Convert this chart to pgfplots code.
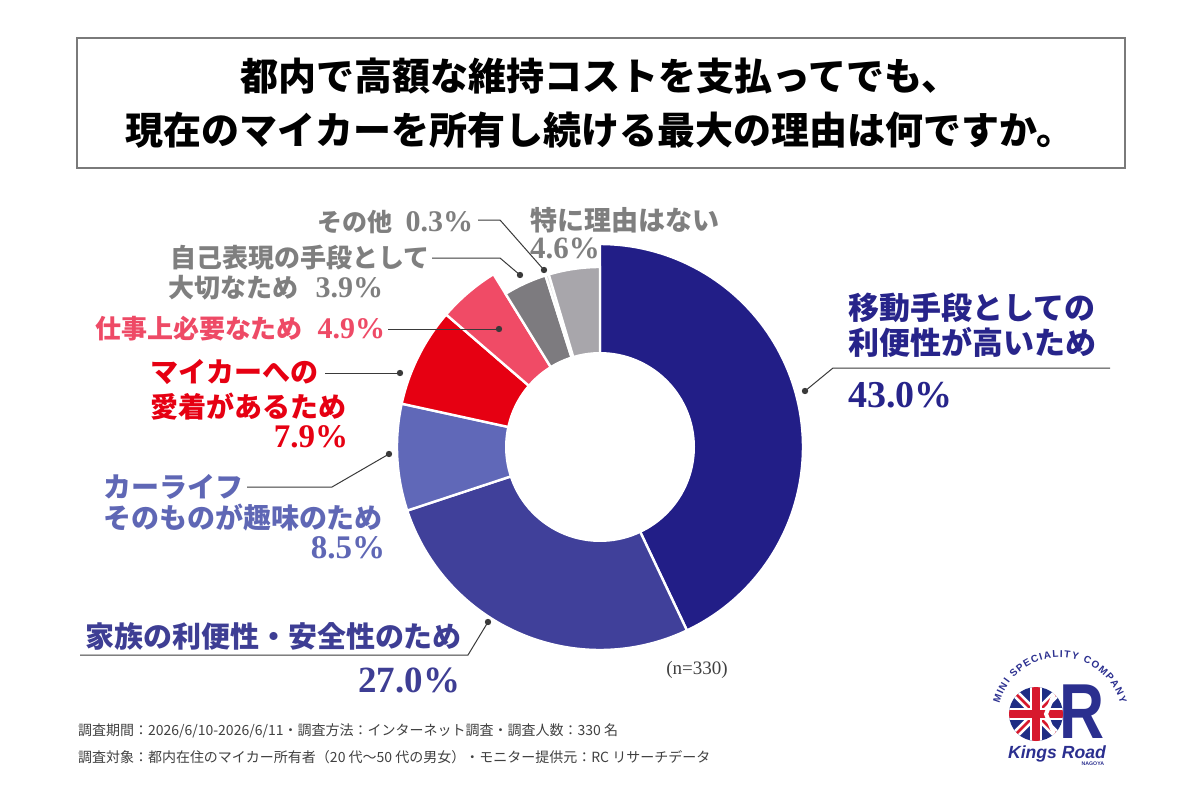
\documentclass[border=0pt]{standalone}
\usepackage{fontspec}
\usepackage{pgfplots}
\pgfplotsset{compat=1.18}
\usetikzlibrary{decorations.text}

\setmainfont{Liberation Serif}
\newfontfamily\jp{Noto Sans CJK JP}
\newfontfamily\logosans{Liberation Sans}

% slice colours
\definecolor{cNavy}{HTML}{221E87}
\definecolor{cFamily}{HTML}{40409A}
\definecolor{cHobby}{HTML}{6068B8}
\definecolor{cRed}{HTML}{E60012}
\definecolor{cPink}{HTML}{F04B66}
\definecolor{cDark}{HTML}{7D7B7F}
\definecolor{cOther}{HTML}{DADADA}
\definecolor{cLight}{HTML}{A8A6AB}
% text colours
\definecolor{tNavy}{HTML}{27248A}
\definecolor{tFamily}{HTML}{3E3E94}
\definecolor{tHobby}{HTML}{5F67B5}
\definecolor{tRed}{HTML}{E60012}
\definecolor{tPink}{HTML}{EE4A66}
\definecolor{tGrey}{HTML}{7F7F7F}
\definecolor{leader}{HTML}{3A3A3A}
\definecolor{frame}{HTML}{7A7A7A}
\definecolor{note}{HTML}{404040}
\definecolor{ukblue}{HTML}{1F2D84}
\definecolor{ukred}{HTML}{D7192D}
\definecolor{logoblue}{HTML}{2B2F8F}

% donut geometry (axis units)
\def\cx{600}\def\cy{353}
\def\Rout{203}\def\Rgrey{180}\def\Rin{95}
\def\tot{100.1}

% one sector: start share, share, colour, outer radius (clockwise from 12 o'clock)
\newcommand\sector[4]{%
  \addplot[fill=#3, draw=white, line width=1.2pt, samples=90,
    domain=90-360*(#1+#2)/\tot:90-360*(#1)/\tot]
    ({\cx+#4*cos(x)},{\cy+#4*sin(x)}) -- (axis cs:\cx,\cy) -- cycle;}

% leader dot
\newcommand\ldot[2]{\fill[leader] (axis cs:#1,#2) circle[radius=1.6pt];}

\newcommand\fs[2]{\fontsize{#1}{#2}\selectfont}

\begin{document}
\begin{tikzpicture}[lab/.style={inner sep=0pt, outer sep=0pt}]
\begin{axis}[scale only axis, width=600pt, height=400pt,
  xmin=0, xmax=1200, ymin=0, ymax=800, hide axis, clip=false]
\path (axis cs:0,0) rectangle (axis cs:1200,800);

% title
\draw[frame, line width=1pt] (axis cs:77,632) rectangle (axis cs:1125,762);
\node[align=center, font={\jp\bfseries\fs{19}{27}}] at (axis cs:600,697)
  {都内で高額な維持コストを支払ってでも、\\現在のマイカーを所有し続ける最大の理由は何ですか。};

% donut
\sector{0}{43.0}{cNavy}{\Rout}
\sector{43.0}{27.0}{cFamily}{\Rout}
\sector{43.0+27.0}{8.5}{cHobby}{\Rout}
\sector{43.0+27.0+8.5}{7.9}{cRed}{\Rout}
\sector{43.0+27.0+8.5+7.9}{4.9}{cPink}{\Rout}
\sector{43.0+27.0+8.5+7.9+4.9}{3.9}{cDark}{\Rgrey}
\sector{43.0+27.0+8.5+7.9+4.9+3.9}{0.3}{cOther}{\Rgrey}
\sector{43.0+27.0+8.5+7.9+4.9+3.9+0.3}{4.6}{cLight}{\Rgrey}
\addplot[fill=white, draw=none, domain=0:360, samples=120]
  ({\cx+\Rin*cos(x)},{\cy+\Rin*sin(x)}) -- cycle;

% leader lines
\draw[leader, line width=0.5pt] (axis cs:805,409) -- (axis cs:833,432) -- (axis cs:1110,432);
\draw[leader, line width=0.5pt] (axis cs:488,178) -- (axis cs:468,145) -- (axis cs:80,145);
\draw[leader, line width=0.5pt] (axis cs:389,346) -- (axis cs:332,313) -- (axis cs:247,313);
\draw[leader, line width=0.5pt] (axis cs:400,427) -- (axis cs:325,427);
\draw[leader, line width=0.5pt] (axis cs:499,471) -- (axis cs:388,471);
\draw[leader, line width=0.5pt] (axis cs:520,525) -- (axis cs:500,542) -- (axis cs:432,542);
\draw[leader, line width=0.5pt] (axis cs:544,530) -- (axis cs:500,580) -- (axis cs:478,580);
\ldot{805}{409}\ldot{488}{178}\ldot{389}{346}\ldot{400}{427}
\ldot{499}{471}\ldot{520}{525}\ldot{544}{530}

% labels
\node[lab, anchor=west, align=left, text=tNavy, font={\jp\bfseries\fs{15.5}{17.5}}] at (axis cs:848,474.5)
  {移動手段としての\\利便性が高いため};
\node[lab, anchor=west, text=tNavy, font={\bfseries\fs{19}{22}}] at (axis cs:848,405) {43.0\%};

\node[lab, anchor=west, text=tFamily, font={\jp\bfseries\fs{14.5}{16}}] at (axis cs:85,164) {家族の利便性・安全性のため};
\node[lab, anchor=east, text=tFamily, font={\bfseries\fs{18.5}{20}}] at (axis cs:460,120) {27.0\%};

\node[lab, anchor=west, align=left, text=tHobby, font={\jp\bfseries\fs{14}{15.5}}] at (axis cs:103,297.5)
  {カーライフ\\そのものが趣味のため};
\node[lab, anchor=east, text=tHobby, font={\bfseries\fs{16.5}{19}}] at (axis cs:385,252) {8.5\%};

\node[lab, anchor=west, align=left, text=tRed, font={\jp\bfseries\fs{14}{17.5}}] at (axis cs:150,410.5)
  {マイカーへの\\愛着があるため};
\node[lab, anchor=east, text=tRed, font={\bfseries\fs{16.5}{19}}] at (axis cs:348,363) {7.9\%};

\node[lab, anchor=west, text=tPink, font={\jp\bfseries\fs{13}{15}}] at (axis cs:95,471) {仕事上必要なため};
\node[lab, anchor=east, text=tPink, font={\bfseries\fs{15}{17}}] at (axis cs:385,471) {4.9\%};

\node[lab, anchor=west, text=tGrey, font={\jp\bfseries\fs{13}{15}}] at (axis cs:170,542) {自己表現の手段として};
\node[lab, anchor=west, text=tGrey, font={\jp\bfseries\fs{13}{15}}] at (axis cs:168,512) {大切なため};
\node[lab, anchor=east, text=tGrey, font={\bfseries\fs{15}{17}}] at (axis cs:383,512) {3.9\%};

\node[lab, anchor=west, text=tGrey, font={\jp\bfseries\fs{12.5}{15}}] at (axis cs:317,578) {その他};
\node[lab, anchor=east, text=tGrey, font={\bfseries\fs{15}{17}}] at (axis cs:473,578) {0.3\%};

\node[lab, anchor=west, text=tGrey, font={\jp\bfseries\fs{13.5}{15}}] at (axis cs:530,580) {特に理由はない};
\node[lab, anchor=west, text=tGrey, font={\bfseries\fs{15.5}{18}}] at (axis cs:530,552) {4.6\%};

\node[lab, text=note, font={\fs{9.5}{11}}] at (axis cs:697,130) {(n=330)};

% footnotes
\node[lab, anchor=west, text=note, font={\jp\fs{7}{8}}] at (axis cs:78,69)
  {調査期間：2026/6/10-2026/6/11・調査方法：インターネット調査・調査人数：330 名};
\node[lab, anchor=west, text=note, font={\jp\fs{7}{8}}] at (axis cs:78,43)
  {調査対象：都内在住のマイカー所有者（20 代～50 代の男女）・モニター提供元：RC リサーチデータ};

% logo
\path[decorate, decoration={text along path, text align=fit to path,
    text={|\logosans\bfseries\fs{5}{6}\color{logoblue}|MINI SPECIALITY COMPANY}}]
  (axis cs:999.4,96.3) arc[start angle=165, end angle=15, radius=31.3pt];
\begin{scope}
  \clip (axis cs:1036,86) circle[radius=13.5pt];
  \fill[ukblue] (axis cs:1000,50) rectangle (axis cs:1072,122);
  \draw[white, line width=4pt] (axis cs:1005,55) -- (axis cs:1067,117) (axis cs:1005,117) -- (axis cs:1067,55);
  \draw[ukred, line width=1.4pt] (axis cs:1005,55) -- (axis cs:1067,117) (axis cs:1005,117) -- (axis cs:1067,55);
  \draw[white, line width=6pt] (axis cs:1036,50) -- (axis cs:1036,122) (axis cs:1000,86) -- (axis cs:1072,86);
  \draw[ukred, line width=3.6pt] (axis cs:1036,50) -- (axis cs:1036,122) (axis cs:1000,86) -- (axis cs:1072,86);
  \draw[white, line width=2pt] (axis cs:1058,116) -- (axis cs:1046,86) -- (axis cs:1058,56);
\end{scope}
\node[lab, text=logoblue, font={\logosans\bfseries\fs{39}{39}}, xscale=0.8] at (axis cs:1082,88) {R};
\node[lab, text=logoblue, font={\logosans\bfseries\itshape\fs{8.8}{9}}] at (axis cs:1057,46) {Kings Road};
\node[lab, anchor=east, text=logoblue, font={\logosans\bfseries\fs{2.6}{3}}] at (axis cs:1104,36) {NAGOYA};
\end{axis}
\end{tikzpicture}
\end{document}
